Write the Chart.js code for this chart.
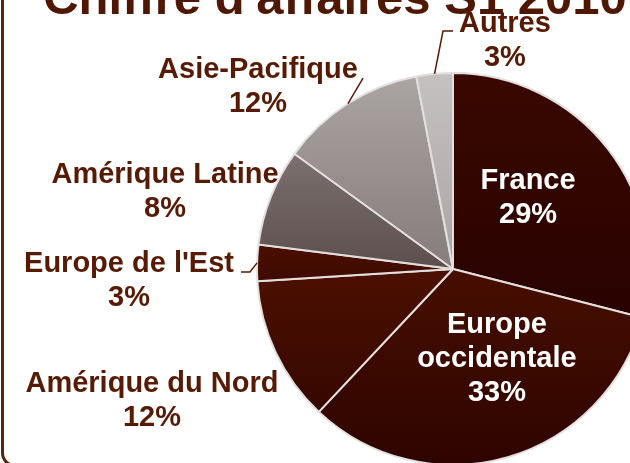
<!DOCTYPE html>
<html>
<head>
<meta charset="utf-8">
<script src="https://cdn.jsdelivr.net/npm/chart.js@4/dist/chart.umd.min.js"></script>
<style>
    html, body { margin: 0; padding: 0; background: #fff; }
    #wrap { position: relative; width: 630px; height: 463px; overflow: hidden; background: #fff; }
    #frame { position: absolute; left: 1px; top: -20px; width: 700px; height: 487px;
             box-sizing: border-box; border: 3px solid #55260e; border-radius: 14px; }
    #chartBox { position: absolute; left: 0; top: 0; width: 900px; height: 600px; }
</style>
</head>
<body>
<div id="wrap">
    <div id="frame"></div>
    <div id="chartBox"><canvas id="myChart" width="900" height="600"></canvas></div>
</div>
<script>
const chartTitle = "Chiffre d'affaires S1 2010";
const regions = ['France', 'Europe occidentale', 'Amérique du Nord', "Europe de l'Est", 'Amérique Latine', 'Asie-Pacifique', 'Autres'];
const shares = [29, 33, 12, 3, 8, 12, 3];
const labelLines = [
    ['France', '29%'],
    ['Europe', 'occidentale', '33%'],
    ['Amérique du Nord', '12%'],
    ["Europe de l'Est", '3%'],
    ['Amérique Latine', '8%'],
    ['Asie-Pacifique', '12%'],
    ['Autres', '3%']
];

// slice colours (top, bottom of each slice)
const topColors = ['#390800', '#470e00', '#4c1000', '#4b0f00', '#7c7170', '#aaa4a3', '#c6c1c1'];
const bottomColors = ['#290200', '#2e0400', '#360700', '#3d0a00', '#5c4e4c', '#857c7b', '#aaa3a3'];
const labelInside = [true, true, false, false, false, false, false];

// label anchor (first baseline) relative to centre, in radii
const labelAnchor = [
    [0.383, -0.408], [0.224, 0.327], [-1.536, 0.628], [-1.653, 0.015],
    [-1.469, -0.439], [-0.995, -0.974], [0.265, -1.209]
];
// leader line points after the slice edge, in radii
const leaders = {
    3: [[-1.036, 0.015], [-1.082, 0.015]],
    5: [[-0.459, -0.974]],
    6: [[-0.051, -1.214], [0.0, -1.214]]
};

const textColor = '#561a05';
const labelFont = "bold 29px 'Liberation Sans', Arial, sans-serif";
const lineHeight = 34;

function sliceGeometry(chart, i) {
    const area = chart.chartArea;
    const cx = (area.left + area.right) / 2;
    const cy = (area.top + area.bottom) / 2;
    const r = (Math.min(area.width, area.height) - 2) / 2;
    const total = shares.reduce((a, b) => a + b, 0);
    let before = 0;
    for (let k = 0; k < i; k++) before += shares[k];
    const a0 = -Math.PI / 2 + before / total * 2 * Math.PI;
    const a1 = a0 + shares[i] / total * 2 * Math.PI;
    return { cx, cy, r, a0, a1 };
}

function containsAngle(a0, a1, a) {
    while (a < a0) a += 2 * Math.PI;
    return a <= a1;
}

function sliceFill(context) {
    const chart = context.chart;
    const i = context.dataIndex;
    if (!chart.chartArea || i === undefined) return topColors[i || 0];
    const g = sliceGeometry(chart, i);
    const ys = [g.cy, g.cy + g.r * Math.sin(g.a0), g.cy + g.r * Math.sin(g.a1)];
    if (containsAngle(g.a0, g.a1, -Math.PI / 2)) ys.push(g.cy - g.r);
    if (containsAngle(g.a0, g.a1, Math.PI / 2)) ys.push(g.cy + g.r);
    const y0 = Math.min(...ys), y1 = Math.max(...ys);
    const grad = chart.ctx.createLinearGradient(0, y0, 0, y1 + 1);
    grad.addColorStop(0, topColors[i]);
    grad.addColorStop(1, bottomColors[i]);
    return grad;
}

const labelPlugin = {
    id: 'pieLabels',
    afterDatasetsDraw(chart) {
        const ctx = chart.ctx;
        ctx.save();
        ctx.textAlign = 'center';
        ctx.textBaseline = 'alphabetic';

        // title, mostly cut off by the top edge
        ctx.font = "bold 49px 'Liberation Sans', Arial, sans-serif";
        ctx.fillStyle = '#4e1804';
        ctx.fillText(chartTitle, 335, 14);

        ctx.font = labelFont;
        regions.forEach((name, i) => {
            const g = sliceGeometry(chart, i);
            const x = g.cx + labelAnchor[i][0] * g.r;
            const y = g.cy + labelAnchor[i][1] * g.r;

            if (leaders[i]) {
                const mid = (g.a0 + g.a1) / 2;
                ctx.beginPath();
                ctx.moveTo(g.cx + g.r * Math.cos(mid), g.cy + g.r * Math.sin(mid));
                leaders[i].forEach(p => ctx.lineTo(g.cx + p[0] * g.r, g.cy + p[1] * g.r));
                ctx.strokeStyle = textColor;
                ctx.lineWidth = 1.5;
                ctx.stroke();
            }

            ctx.fillStyle = labelInside[i] ? '#ffffff' : textColor;
            labelLines[i].forEach((line, k) => {
                ctx.fillText(line, x, y + k * lineHeight);
            });
        });
        ctx.restore();
    }
};

const ctx = document.getElementById('myChart').getContext('2d');

new Chart(ctx, {
    type: 'pie',
    data: {
        labels: regions,
        datasets: [{
            label: "Chiffre d'affaires",
            data: shares,
            backgroundColor: sliceFill,
            borderColor: '#e2dfde',
            borderWidth: 2
        }]
    },
    options: {
        responsive: false,
        animation: false,
        layout: {
            padding: { left: 256, top: 72, right: 250, bottom: 134 }
        },
        plugins: {
            legend: { display: false },
            tooltip: { enabled: false }
        }
    },
    plugins: [labelPlugin]
});
</script>
</body>
</html>
